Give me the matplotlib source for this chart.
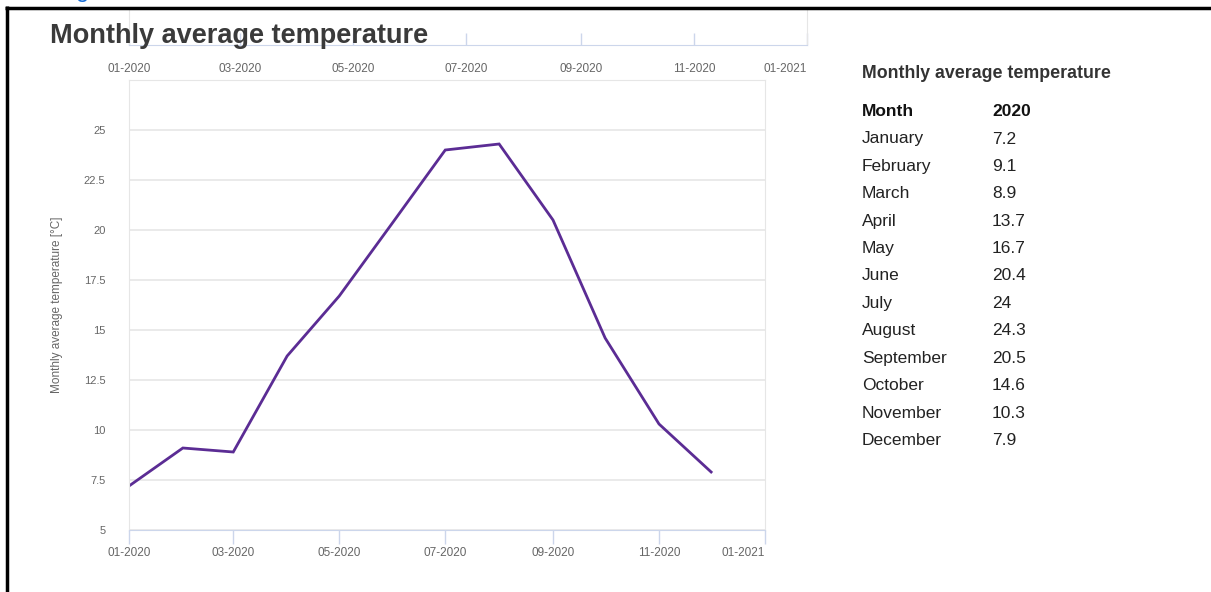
import datetime as dt
import matplotlib
matplotlib.use("Agg")
import matplotlib.pyplot as plt
from matplotlib.lines import Line2D

plt.rcParams['font.family'] = ['Liberation Sans', 'DejaVu Sans']

# data
months = ["January", "February", "March", "April", "May", "June", "July",
          "August", "September", "October", "November", "December"]
temps = [7.2, 9.1, 8.9, 13.7, 16.7, 20.4, 24, 24.3, 20.5, 14.6, 10.3, 7.9]
dates = [dt.date(2020, m, 1) for m in range(1, 13)]
tick_dates = [dt.date(2020, 1, 1), dt.date(2020, 3, 1), dt.date(2020, 5, 1),
              dt.date(2020, 7, 1), dt.date(2020, 9, 1), dt.date(2020, 11, 1),
              dt.date(2021, 1, 1)]
tick_labels = [d.strftime("%m-%Y") for d in tick_dates]
y_ticks = [5, 7.5, 10, 12.5, 15, 17.5, 20, 22.5, 25]

W, H = 1211, 592
grid_c = "#e6e6e6"
axis_c = "#ccd6eb"
label_c = "#666666"
line_c = "#5b2c94"

fig = plt.figure(figsize=(W / 100, H / 100), dpi=100)


def box(x0, y0, x1, y1):
    # pixel box (top-left origin) -> figure fraction rect
    return [x0 / W, 1 - y1 / H, (x1 - x0) / W, (y1 - y0) / H]


# main chart
ax = fig.add_axes(box(129, 80, 765, 530))
ax.plot(dates, temps, color=line_c, lw=2.0, solid_joinstyle="miter")
ax.set_xlim(dt.date(2020, 1, 1), dt.date(2021, 1, 1))
ax.set_ylim(5, 27.5)
ax.set_yticks(y_ticks, [f"{v:g}" for v in y_ticks])
ax.yaxis.grid(True, color=grid_c, lw=1.2)
ax.set_axisbelow(True)
ax.tick_params(axis="y", length=0, pad=17, labelsize=8, labelcolor=label_c)
ax.set_xticks(tick_dates, tick_labels)
ax.tick_params(axis="x", direction="out", length=10, width=1, color=axis_c,
               pad=2, labelsize=8.5, labelcolor=label_c)
ax.get_xticklabels()[-1].set_ha("right")
for s in ["left", "right", "top"]:
    ax.spines[s].set_color(grid_c)
ax.spines["bottom"].set_color(axis_c)
ax.set_ylabel("Monthly average temperature [°C]", color=label_c, fontsize=8.5,
              labelpad=15)

# top axis strip
ax2 = fig.add_axes(box(129, 8, 807, 45))
ax2.set_xlim(dt.date(2020, 1, 1), dt.date(2021, 1, 1))
ax2.set_ylim(0, 1)
ax2.set_yticks([])
ax2.set_xticks(tick_dates, tick_labels)
ax2.tick_params(axis="x", direction="in", length=9, width=1, color=axis_c,
                pad=13, labelsize=8.5, labelcolor=label_c)
ax2.get_xticklabels()[-1].set_ha("right")
ax2.spines["top"].set_visible(False)
ax2.spines["left"].set_color(grid_c)
ax2.spines["right"].set_color(grid_c)
ax2.spines["bottom"].set_color(axis_c)
ax2.patch.set_alpha(0)

# title
fig.text(50 / W, 1 - 36 / H, "Monthly average temperature", fontsize=19.5,
         fontweight="bold", color="#3a3a3a", va="center", ha="left")

# clipped text at top
fig.text(76 / W, 1 + 3 / H, "g", fontsize=17, color="#1a6fd8", va="baseline")

# frame of the page
fig.add_artist(Line2D([6.5 / W, 6.5 / W], [0, 1 - 6 / H], color="black", lw=2.5,
                      solid_capstyle="butt", transform=fig.transFigure))
fig.add_artist(Line2D([5 / W, 1], [1 - 7.5 / H, 1 - 7.5 / H], color="black",
                      lw=2.5, solid_capstyle="butt", transform=fig.transFigure))

# data table
tx0, tx1 = 862 / W, 992 / W
fig.text(tx0, 1 - 74 / H, "Monthly average temperature", fontsize=12.8,
         fontweight="bold", color="#333333", va="center")
fig.text(tx0, 1 - 111 / H, "Month", fontsize=12.5, fontweight="bold",
         color="#111111", va="center")
fig.text(tx1, 1 - 111 / H, "2020", fontsize=12.5, fontweight="bold",
         color="#111111", va="center")
for i, (m, t) in enumerate(zip(months, temps)):
    yy = 1 - (139 + i * 27.4) / H
    fig.text(tx0, yy, m, fontsize=12.5, color="#222222", va="center")
    fig.text(tx1, yy, f"{t:g}", fontsize=12.5, color="#222222", va="center")

fig.savefig("out.png", dpi=100)
